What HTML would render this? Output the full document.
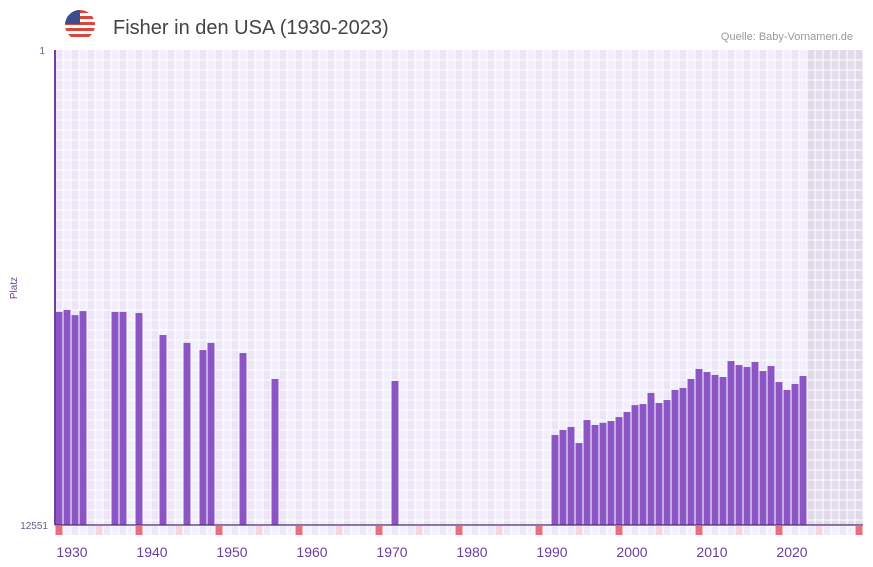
<!DOCTYPE html>
<html><head><meta charset="utf-8"><style>
body{margin:0;background:#fff;font-family:"Liberation Sans",sans-serif}
svg{display:block}
</style></head><body>
<svg id="c" width="873" height="567">
<g id="flag">
<clipPath id="fc"><circle cx="80" cy="25" r="15"/></clipPath>
<g clip-path="url(#fc)">
<rect x="65" y="10" width="30" height="30" fill="#fff"/>
<rect x="65" y="10" width="30" height="3" fill="#d9463c"/><rect x="65" y="16" width="30" height="3" fill="#d9463c"/><rect x="65" y="22" width="30" height="3" fill="#d9463c"/><rect x="65" y="28" width="30" height="3" fill="#d9463c"/><rect x="65" y="34" width="30" height="3" fill="#d9463c"/>
<rect x="65" y="10" width="15" height="14" fill="#3b4d8f"/>
</g></g>
<text x="113" y="34" font-size="20" fill="#444">Fisher in den USA (1930-2023)</text>
<text x="853" y="40" font-size="11" fill="#999" text-anchor="end">Quelle: Baby-Vornamen.de</text>
<text x="17" y="288" font-size="10" fill="#6a3fa0" transform="rotate(-90 17 288)" text-anchor="middle">Platz</text>
<text x="45" y="54" font-size="10" fill="#6a5a8a" text-anchor="end">1</text>
<text x="48" y="529" font-size="10" fill="#6a5a8a" text-anchor="end">12551</text>
<g id="bg"></g><g id="bars"></g><g id="marks"></g><g id="ticks"></g>
<line x1="55" y1="50" x2="55" y2="525" stroke="#6a3fa0" stroke-width="2"/>
<line x1="55" y1="525" x2="863" y2="525" stroke="#4a2a7a" stroke-width="1.2"/>
</svg>
<script>
const years=[1929,1930,1931,1932,1936,1937,1939,1942,1945,1947,1948,1952,1956,1971,
1991,1992,1993,1994,1995,1996,1997,1998,1999,2000,2001,2002,2003,2004,2005,2006,2007,2008,2009,2010,2011,2012,2013,2014,2015,2016,2017,2018,2019,2020,2021,2022];
const ranks=[182,175,194,179,182,182,186,288,337,388,337,412,690,718,
2100,1900,1790,2464,1560,1720,1650,1590,1470,1330,1160,1135,911,1112,1048,858,825,690,566,601,637,663,483,523,544,492,589,533,733,858,762,650];
const tickLabels=[1930,1940,1950,1960,1970,1980,1990,2000,2010,2020];
const maxRank=12551, startYear=1929, nSlots=101;
const X0=55,SW=8,Y0=50,Y1=525;
const x=y=>X0+(y-startYear)*SW;
const yS=r=>Y0+(Y1-Y0)*Math.log(r)/Math.log(maxRank);
const NS="http://www.w3.org/2000/svg";
function mk(t,a,p){const e=document.createElementNS(NS,t);for(const k in a)e.setAttribute(k,a[k]);p.appendChild(e);return e;}
const bg=document.getElementById('bg');
for(let i=0;i<nSlots;i++){
 const future=(X0+i*SW)>=807;
 const c=mk('rect',{x:X0+i*SW,y:Y0,width:SW,height:Y1-Y0,fill:future?(i%2?'#e2dced':'#dfd9ea'):(i%2?'#f2eefb':'#ebe5f7')},bg);
 
 
}
for(let i=0;i<=nSlots;i++){mk('line',{x1:X0+i*SW,y1:Y0,x2:X0+i*SW,y2:Y1,stroke:'#fff','stroke-width':1},bg);}
for(let yy=Y0+10;yy<Y1;yy+=10){mk('line',{x1:X0,y1:yy,x2:863,y2:yy,stroke:'#fff','stroke-width':1},bg);}
const bars=document.getElementById('bars');
years.forEach((yr,i)=>{
 const top=yS(ranks[i]);
 const b=mk('rect',{x:x(yr)+0.5,y:top,width:SW-1,height:Y1-top,fill:'#8c55c6'},bars);
 
 
});
const marks=document.getElementById('marks');
for(let i=0;i<nSlots;i++){
 let f=(i%2)?'#f5f1fc':'#ede8f8';
 if(i%10===0)f='#e8707a';else if(i%10===5)f='#f5d5e0';
 const m=mk('rect',{x:X0+i*SW+0.5,y:526,width:SW-1,height:9,fill:f},marks);
 
 
}
const ticks=document.getElementById('ticks');
tickLabels.forEach(t=>{
 const e=mk('text',{x:x(t)+9,y:557,'font-size':14,fill:'#6a3fa0','text-anchor':'middle'},ticks);
 e.textContent=t;
 
 
});
</script>
</body></html>
